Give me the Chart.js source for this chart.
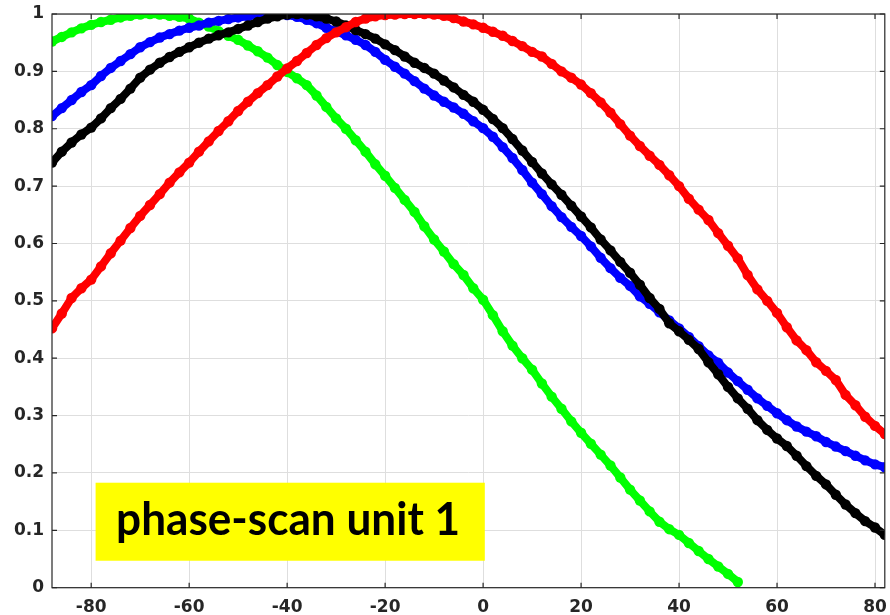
<!DOCTYPE html>
<html>
<head>
<meta charset="utf-8">
<script src="https://cdn.jsdelivr.net/npm/chart.js@4/dist/chart.umd.min.js"></script>
<style>
  html, body { margin: 0; padding: 0; background: #ffffff; }
  #wrap { width: 890px; height: 615px; position: relative; }
</style>
</head>
<body>
<div id="wrap"><canvas id="c" width="890" height="615"></canvas></div>
<script>
// Scan angle (deg) for each sample
const angles = [
  -88,-86,-84,-82,-80,-78,-76,-74,-72,-70,-68,-66,-64,-62,-60,-58,-56,-54,-52,-50,
  -48,-46,-44,-42,-40,-38,-36,-34,-32,-30,-28,-26,-24,-22,-20,-18,-16,-14,-12,-10,
  -8,-6,-4,-2,0,2,4,6,8,10,12,14,16,18,20,22,24,26,28,30,
  32,34,36,38,40,42,44,46,48,50,52,54,56,58,60,62,64,66,68,70,
  72,74,76,78,80,82
];

// Normalised response per channel
const greenVals = [
  0.952,0.960,0.968,0.975,0.981,0.986,0.990,0.994,0.997,0.999,1.000,0.999,0.997,0.995,0.992,0.985,0.978,0.970,0.962,0.955,
  0.945,0.935,0.924,0.911,0.899,0.888,0.876,0.858,0.838,0.818,0.800,0.780,0.760,0.738,0.718,0.697,0.676,0.655,0.630,0.607,
  0.586,0.564,0.545,0.522,0.502,0.475,0.447,0.422,0.400,0.380,0.356,0.333,0.312,0.290,0.270,0.251,0.232,0.213,0.192,0.171,
  0.152,0.133,0.115,0.102,0.092,0.078,0.064,0.050,0.037,0.024,0.010
];
const blueVals = [
  0.822,0.836,0.850,0.864,0.876,0.892,0.906,0.918,0.930,0.942,0.951,0.959,0.965,0.971,0.976,0.980,0.985,0.988,0.991,0.994,
  0.996,0.998,0.999,0.999,0.998,0.995,0.990,0.984,0.976,0.970,0.963,0.955,0.946,0.934,0.920,0.908,0.896,0.883,0.870,0.858,
  0.847,0.837,0.826,0.813,0.801,0.786,0.768,0.749,0.728,0.706,0.686,0.665,0.646,0.629,0.613,0.595,0.575,0.557,0.540,0.526,
  0.508,0.495,0.480,0.466,0.452,0.437,0.421,0.405,0.392,0.375,0.360,0.345,0.330,0.317,0.304,0.292,0.281,0.272,0.264,0.254,
  0.246,0.238,0.230,0.222,0.215,0.210
];
const blackVals = [
  0.741,0.760,0.776,0.790,0.802,0.818,0.836,0.852,0.870,0.889,0.903,0.915,0.925,0.934,0.942,0.950,0.957,0.963,0.968,0.974,
  0.980,0.986,0.992,0.996,0.999,1.000,0.999,0.996,0.992,0.987,0.980,0.972,0.965,0.957,0.947,0.937,0.926,0.915,0.906,0.896,
  0.884,0.872,0.859,0.847,0.833,0.817,0.801,0.782,0.762,0.742,0.722,0.703,0.685,0.666,0.647,0.628,0.607,0.588,0.568,0.549,
  0.528,0.505,0.486,0.461,0.447,0.432,0.416,0.393,0.372,0.350,0.330,0.312,0.292,0.275,0.260,0.247,0.230,0.212,0.195,0.180,
  0.162,0.145,0.130,0.116,0.105,0.092
];
const redVals = [
  0.452,0.478,0.505,0.522,0.537,0.560,0.583,0.605,0.627,0.648,0.667,0.686,0.706,0.724,0.741,0.760,0.778,0.796,0.813,0.831,
  0.847,0.862,0.876,0.891,0.905,0.918,0.932,0.946,0.958,0.968,0.977,0.986,0.992,0.996,0.998,0.999,1.000,1.000,1.000,0.999,
  0.997,0.993,0.987,0.982,0.976,0.969,0.962,0.953,0.944,0.934,0.926,0.913,0.900,0.889,0.877,0.862,0.846,0.828,0.808,0.788,
  0.770,0.753,0.737,0.719,0.700,0.678,0.659,0.641,0.618,0.596,0.574,0.545,0.520,0.500,0.479,0.454,0.431,0.414,0.393,0.378,
  0.362,0.336,0.318,0.298,0.282,0.268
];

const xTicks = [-80, -60, -40, -20, 0, 20, 40, 60, 80];
const yTicks = [0, 0.1, 0.2, 0.3, 0.4, 0.5, 0.6, 0.7, 0.8, 0.9, 1];
const boxLabel = 'phase-scan unit 1';
// label box extent in data units: [xFrom, xTo, yFrom, yTo]
const boxExtent = [-79.1, 0.35, 0.047, 0.183];

const toPoints = vals => vals.map((v, i) => ({ x: angles[i], y: v }));

const AXIS_COLOR = '#262626';
const GRID_COLOR = '#dedede';

function series(label, vals, color, order) {
  return {
    label, data: toPoints(vals), showLine: true,
    borderColor: color, backgroundColor: color,
    borderWidth: 8, pointRadius: 5.2, pointBorderWidth: 0,
    pointHoverRadius: 5.2, order
  };
}

// Box frame, inward ticks on all four sides, and the yellow label
const framePlugin = {
  id: 'frame',
  afterDatasetsDraw(chart) {
    const { ctx, chartArea: a, scales: { x, y } } = chart;
    ctx.save();
    // yellow label box
    const bx0 = x.getPixelForValue(boxExtent[0]), bx1 = x.getPixelForValue(boxExtent[1]);
    const by0 = y.getPixelForValue(boxExtent[3]), by1 = y.getPixelForValue(boxExtent[2]);
    ctx.fillStyle = '#ffff00';
    ctx.fillRect(bx0, by0, bx1 - bx0, by1 - by0);
    ctx.fillStyle = '#000000';
    ctx.font = 'bold 45px Lato';
    ctx.textBaseline = 'alphabetic';
    ctx.textAlign = 'left';
    const w = ctx.measureText(boxLabel).width;
    const target = 344;
    const sx = target / w;
    ctx.translate(bx0 + 20.5, by0 + 52.5);
    ctx.scale(sx, 1);
    ctx.fillText(boxLabel, 0, 0);
    ctx.setTransform(1, 0, 0, 1, 0, 0);

    // axes frame
    ctx.strokeStyle = AXIS_COLOR;
    ctx.lineWidth = 1.2;
    ctx.strokeRect(a.left, a.top, a.right - a.left, a.bottom - a.top);
    // inward tick marks
    const tl = 5;
    ctx.beginPath();
    xTicks.forEach(v => {
      const px = x.getPixelForValue(v);
      ctx.moveTo(px, a.bottom); ctx.lineTo(px, a.bottom - tl);
      ctx.moveTo(px, a.top); ctx.lineTo(px, a.top + tl);
    });
    yTicks.forEach(v => {
      const py = y.getPixelForValue(v);
      ctx.moveTo(a.left, py); ctx.lineTo(a.left + tl, py);
      ctx.moveTo(a.right, py); ctx.lineTo(a.right - tl, py);
    });
    ctx.stroke();
    ctx.restore();
  }
};

new Chart(document.getElementById('c'), {
  type: 'scatter',
  data: {
    datasets: [
      series('green', greenVals, '#00ff00', 4),
      series('blue', blueVals, '#0000ff', 3),
      series('black', blackVals, '#000000', 2),
      series('red', redVals, '#ff0000', 1)
    ]
  },
  options: {
    responsive: false,
    animation: false,
    events: [],
    layout: { padding: { top: 14, right: 4.3, left: 0, bottom: 0 } },
    plugins: { legend: { display: false }, tooltip: { enabled: false } },
    scales: {
      x: {
        type: 'linear', min: -88, max: 82,
        afterBuildTicks: s => { s.ticks = xTicks.map(v => ({ value: v })); },
        afterFit: s => { s.height = 27.3; s.paddingLeft = 0; s.paddingRight = 0; },
        grid: { color: GRID_COLOR, drawTicks: false, lineWidth: 1 },
        border: { display: false },
        ticks: {
          padding: 10, color: AXIS_COLOR,
          font: { family: 'DejaVu Sans', size: 17, weight: 'bold' },
          maxRotation: 0, autoSkip: false
        }
      },
      y: {
        type: 'linear', min: 0, max: 1,
        afterBuildTicks: s => { s.ticks = yTicks.map(v => ({ value: v })); },
        afterFit: s => { s.width = 52; s.paddingTop = 0; s.paddingBottom = 0; },
        grid: { color: GRID_COLOR, drawTicks: false, lineWidth: 1 },
        border: { display: false },
        ticks: {
          padding: 8, color: AXIS_COLOR,
          font: { family: 'DejaVu Sans', size: 17, weight: 'bold' },
          callback: v => String(Math.round(v * 10) / 10)
        }
      }
    }
  },
  plugins: [framePlugin]
});
</script>
</body>
</html>
